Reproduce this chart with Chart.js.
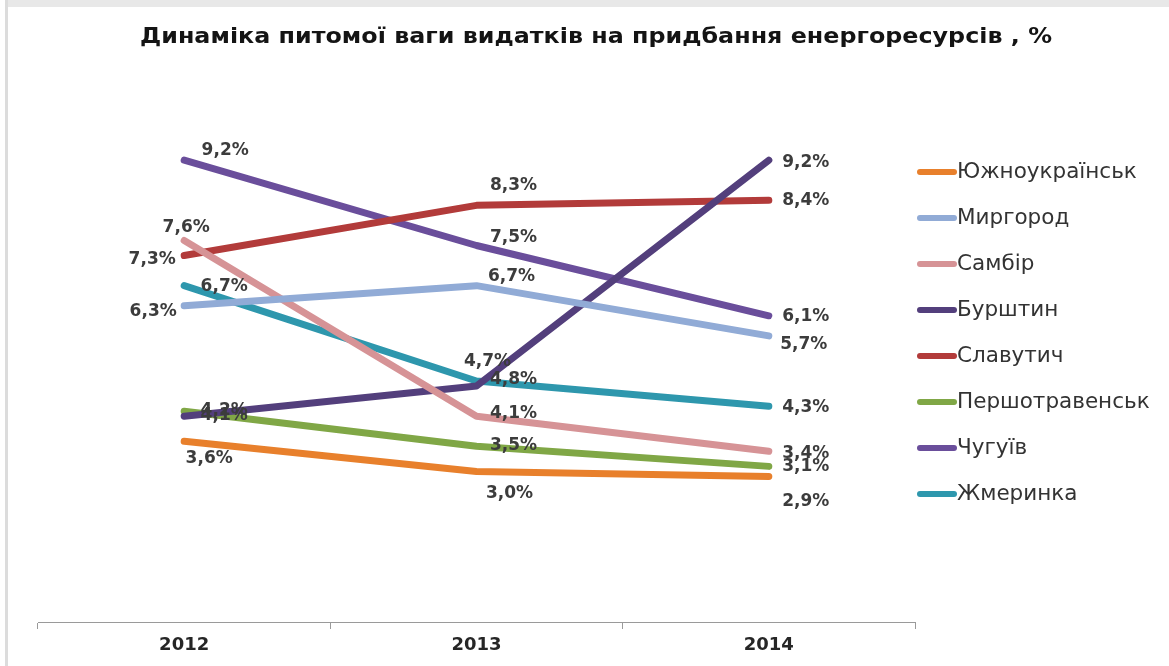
<!DOCTYPE html>
<html>
<head>
<meta charset="utf-8">
<script src="https://cdn.jsdelivr.net/npm/chart.js@4.4.1/dist/chart.umd.min.js"></script>
<style>
  html, body { margin: 0; padding: 0; background: #ffffff; }
  #wrap { position: relative; width: 1169px; height: 666px; }
</style>
</head>
<body>
<div id="wrap"><canvas id="chart"></canvas></div>
<script>
// Years on the category axis
const years = ['2012', '2013', '2014'];

// Towns (series names)
const towns = ['Южноукраїнськ', 'Миргород', 'Самбір', 'Бурштин', 'Славутич', 'Першотравенськ', 'Чугуїв', 'Жмеринка'];

// Share of energy expenses, %
const yuzhnoukrainsk = [3.6, 3.0, 2.9];
const myrhorod       = [6.3, 6.7, 5.7];
const sambir         = [7.6, 4.1, 3.4];
const burshtyn       = [4.1, 4.7, 9.2];
const slavutych      = [7.3, 8.3, 8.4];
const pershotravensk = [4.2, 3.5, 3.1];
const chuhuiv        = [9.2, 7.5, 6.1];
const zhmerynka      = [6.7, 4.8, 4.3];

const seriesValues = [yuzhnoukrainsk, myrhorod, sambir, burshtyn, slavutych, pershotravensk, chuhuiv, zhmerynka];

const titleText = 'Динаміка питомої ваги видатків на придбання енергоресурсів , %';

// Line colours, one per town
const lineColors = ['#e8802c', '#91abd6', '#d69396', '#533f7c', '#b23b3a', '#80a746', '#6a4e9b', '#2e97ad'];

// Where each value label sits relative to its point [dx, dy] in px
const labelOffsets = [
  [[25, 17], [33, 22], [37, 25]],
  [[-31, 6], [35, -9], [35, 9]],
  [[2, -13], [37, -3], [37, 2]],
  [[40, -1], [11, -24], [37, 2]],
  [[-32, 4], [37, -20], [37, 0]],
  [[40, -1], [37, -1], [37, 0]],
  [[41, -10], [37, -8], [37, 1]],
  [[40, 1], [37, -1], [37, 1]]
];

const fmt = v => v.toFixed(1).replace('.', ',') + '%';

// White panel with a light grey frame on the top and left
const framePlugin = {
  id: 'frame',
  beforeDraw(chart) {
    const ctx = chart.ctx;
    ctx.save();
    ctx.fillStyle = '#ffffff';
    ctx.fillRect(0, 0, chart.width, chart.height);
    ctx.fillStyle = '#e8e8e8';
    ctx.fillRect(5, 0, chart.width - 5, 7);
    ctx.fillStyle = '#dcdcdc';
    ctx.fillRect(5, 0, 3, chart.height);
    ctx.restore();
  }
};

// Chart heading, centred over the plot and legend together
const headingPlugin = {
  id: 'heading',
  afterDraw(chart) {
    const ctx = chart.ctx;
    ctx.save();
    ctx.font = 'bold 22px "DejaVu Sans"';
    ctx.fillStyle = '#141414';
    ctx.textAlign = 'center';
    ctx.textBaseline = 'middle';
    const w = ctx.measureText(titleText).width;
    ctx.translate(596, 37);
    ctx.scale(912 / w, 1);
    ctx.fillText(titleText, 0, 0);
    ctx.restore();
  }
};

// Value labels next to every point
const valueLabelPlugin = {
  id: 'valueLabels',
  afterDatasetsDraw(chart) {
    const ctx = chart.ctx;
    ctx.save();
    ctx.font = 'bold 17px "DejaVu Sans"';
    ctx.fillStyle = '#3c3c3c';
    ctx.textAlign = 'center';
    ctx.textBaseline = 'middle';
    chart.data.datasets.forEach((ds, i) => {
      const meta = chart.getDatasetMeta(i);
      meta.data.forEach((pt, j) => {
        const off = labelOffsets[i][j];
        ctx.fillText(fmt(ds.data[j]), pt.x + off[0], pt.y + off[1]);
      });
    });
    ctx.restore();
  }
};

// Vertical legend to the right of the plot
const sideLegendPlugin = {
  id: 'sideLegend',
  afterDraw(chart) {
    const ctx = chart.ctx;
    const x0 = chart.chartArea.right + 2;
    ctx.save();
    ctx.font = '21.5px "DejaVu Sans"';
    ctx.textBaseline = 'middle';
    ctx.textAlign = 'left';
    chart.data.datasets.forEach((ds, i) => {
      const y = 172 + i * 46;
      ctx.strokeStyle = ds.borderColor;
      ctx.lineWidth = 6;
      ctx.lineCap = 'round';
      ctx.beginPath();
      ctx.moveTo(x0 + 3, y);
      ctx.lineTo(x0 + 37, y);
      ctx.stroke();
      ctx.fillStyle = '#333333';
      ctx.fillText(ds.label, x0 + 40, y);
    });
    ctx.restore();
  }
};

const datasets = towns.map((name, i) => ({
  label: name,
  data: seriesValues[i],
  borderColor: lineColors[i],
  backgroundColor: lineColors[i],
  borderWidth: 7,
  borderCapStyle: 'round',
  borderJoinStyle: 'round',
  pointRadius: 0,
  pointHoverRadius: 0,
  tension: 0,
  fill: false
}));

new Chart(document.getElementById('chart'), {
  type: 'line',
  data: { labels: years, datasets },
  options: {
    responsive: true,
    maintainAspectRatio: false,
    animation: false,
    layout: { padding: { left: 38, right: 254, top: 120, bottom: 0 } },
    plugins: {
      legend: { display: false },
      title: { display: false },
      tooltip: { enabled: false }
    },
    scales: {
      x: {
        offset: true,
        grid: {
          offset: true,
          drawOnChartArea: false,
          drawTicks: true,
          tickLength: 7,
          color: '#9a9a9a'
        },
        border: { display: true, color: '#9a9a9a', width: 1 },
        ticks: {
          color: '#262626',
          padding: 6,
          font: { family: 'DejaVu Sans', size: 18, weight: 'bold' }
        },
        afterFit(scale) { scale.height = 44; }
      },
      y: {
        display: false,
        min: 0,
        max: 10
      }
    }
  },
  plugins: [framePlugin, headingPlugin, valueLabelPlugin, sideLegendPlugin]
});
</script>
</body>
</html>
